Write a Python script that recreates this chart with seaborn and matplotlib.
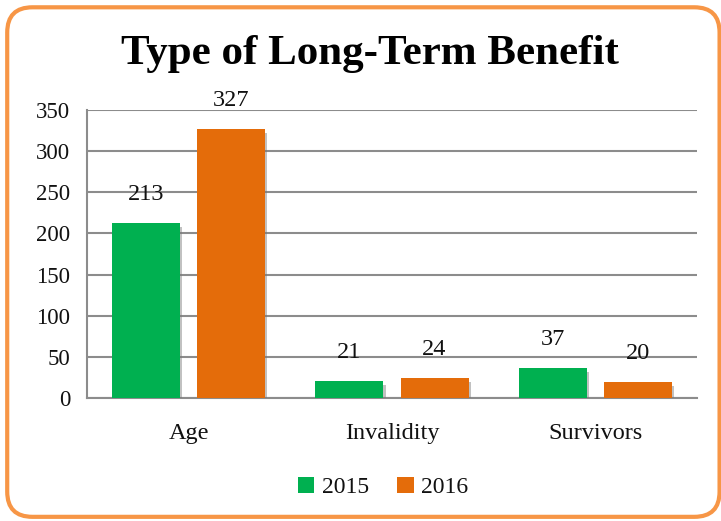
import pandas as pd
import matplotlib
matplotlib.use("Agg")
import matplotlib.pyplot as plt
import seaborn as sns
from matplotlib.patches import FancyBboxPatch
from matplotlib import patheffects as pe

categories = ["Age", "Invalidity", "Survivors"]
years = ["2015", "2016"]
values_2015 = [213, 21, 37]
values_2016 = [327, 24, 20]
y_ticks = [0, 50, 100, 150, 200, 250, 300, 350]

df = pd.DataFrame({
    "Type": categories * 2,
    "Year": [years[0]] * 3 + [years[1]] * 3,
    "Count": values_2015 + values_2016,
})

sns.set_style("white")
plt.rcParams["font.family"] = ["Liberation Serif", "DejaVu Serif"]
plt.rcParams["text.color"] = "#111111"

fig = plt.figure(figsize=(7.21, 5.21), dpi=100)
ax = fig.add_axes([0.1207, 0.236, 0.846, 0.553])

palette = {"2015": "#00B050", "2016": "#E46C0A"}
sns.barplot(data=df, x="Type", y="Count", hue="Year", palette=palette,
            width=0.837, gap=0.2, ax=ax, saturation=1, zorder=3, linewidth=0)

ax.set_ylim(0, 350)
ax.set_yticks(y_ticks)
ax.set_xlim(-0.5, 2.5)
ax.grid(axis="y", color="#8c8c8c", linewidth=1.5, zorder=0)
ax.set_axisbelow(True)
for s in ["top", "right"]:
    ax.spines[s].set_visible(False)
for s in ["left", "bottom"]:
    ax.spines[s].set_color("#8c8c8c")
    ax.spines[s].set_linewidth(1.5)
ax.tick_params(axis="y", labelsize=16.5, length=0, pad=12, colors="#111111")
ax.tick_params(axis="x", labelsize=17.5, length=0, pad=18, colors="#111111")
ax.set_xlabel("")
ax.set_ylabel("")

ax.legend(loc="upper center", bbox_to_anchor=(0.485, -0.2), ncol=2, frameon=False,
          fontsize=17, handlelength=0.7, handleheight=0.7, handletextpad=0.3,
          columnspacing=1.2)

# soft drop shadow under the bars, like the original
shadow = [pe.SimplePatchShadow(offset=(1.5, -3), shadow_rgbFace="#777777", alpha=0.45), pe.Normal()]
for c in ax.containers:
    for p in c:
        p.set_path_effects(shadow)
    ax.bar_label(c, padding=13, fontsize=17.5, color="#111111")

fig.text(0.513, 0.897, "Type of Long-Term Benefit", ha="center", va="center",
         fontsize=31, fontweight="bold", color="black")

border = FancyBboxPatch((0.01, 0.008), 0.988, 0.978, transform=fig.transFigure,
                        boxstyle="round,pad=0,rounding_size=0.035",
                        facecolor="none", edgecolor="#F79646", linewidth=3,
                        mutation_aspect=721 / 521)
fig.patches.append(border)

fig.savefig("out.png", dpi=100)
